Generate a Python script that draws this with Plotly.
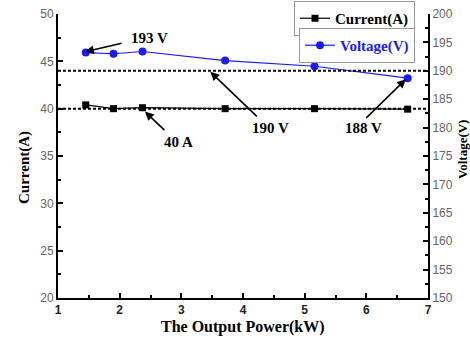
import plotly.graph_objects as go

power_kw = [1.45, 1.90, 2.37, 3.71, 5.16, 6.67]
current_a = [40.4, 40.0, 40.1, 40.0, 40.0, 39.95]
voltage_v = [193.2, 193.0, 193.4, 191.8, 190.8, 188.7]
current_ref = 40
voltage_ref = 190

x_ticks = [1, 2, 3, 4, 5, 6, 7]
cur_ticks = [20, 25, 30, 35, 40, 45, 50]
volt_ticks = [150, 155, 160, 165, 170, 175, 180, 185, 190, 195, 200]

SERIF = "Liberation Serif, Times New Roman, serif"
SANS = "Liberation Sans, Arial, sans-serif"
BLUE = "#1a1aff"

fig = go.Figure()
fig.add_trace(go.Scatter(
    x=power_kw, y=current_a, name="<b>Current(A)</b>", mode="lines+markers",
    line=dict(color="black", width=1.2),
    marker=dict(symbol="square", size=7, color="black"),
    legend="legend"))
fig.add_trace(go.Scatter(
    x=power_kw, y=voltage_v, name="<b>Voltage(V)</b>", mode="lines+markers",
    line=dict(color=BLUE, width=1.2),
    marker=dict(symbol="circle", size=8, color=BLUE),
    yaxis="y2", legend="legend2"))

dotted = dict(color="black", width=2, dash="3px,2px")
fig.add_shape(type="line", xref="paper", x0=0, x1=1, yref="y", y0=current_ref, y1=current_ref, line=dotted)
fig.add_shape(type="line", xref="paper", x0=0, x1=1, yref="y2", y0=voltage_ref, y1=voltage_ref, line=dotted)

label_font = dict(family=SERIF, size=15, color="black")
arrow_style = dict(showarrow=True, arrowhead=2, arrowsize=1.1, arrowwidth=1.6, arrowcolor="black", text="")
# arrows (tip in data coords, tail offset in pixels)
fig.add_annotation(x=1.44, y=46.0, xref="x", yref="y", ax=38, ay=-9, **arrow_style)
fig.add_annotation(x=2.41, y=39.7, xref="x", yref="y", ax=21, ay=20, **arrow_style)
fig.add_annotation(x=3.47, y=43.9, xref="x", yref="y", ax=48, ay=46, **arrow_style)
fig.add_annotation(x=6.64, y=43.1, xref="x", yref="y", ax=-41, ay=40, **arrow_style)
# labels
fig.add_annotation(x=2.49, y=47.5, xref="x", yref="y", text="<b>193 V</b>", showarrow=False, font=label_font)
fig.add_annotation(x=2.95, y=36.5, xref="x", yref="y", text="<b>40 A</b>", showarrow=False, font=label_font)
fig.add_annotation(x=4.45, y=38.0, xref="x", yref="y", text="<b>190 V</b>", showarrow=False, font=label_font)
fig.add_annotation(x=5.95, y=38.0, xref="x", yref="y", text="<b>188 V</b>", showarrow=False, font=label_font)

# axis titles
title_common = dict(xref="paper", yref="paper", showarrow=False, xanchor="center", yanchor="middle")
fig.add_annotation(x=(25-58)/370, y=(298-168)/284, text="<b>Current(A)</b>", textangle=-90,
                   font=dict(family=SERIF, size=15, color="black"), **title_common)
fig.add_annotation(x=(462-58)/370, y=(298-150)/284, text="<b>Voltage(V)</b>", textangle=-90,
                   font=dict(family=SERIF, size=13, color="black"), **title_common)
fig.add_annotation(x=(243-58)/370, y=(298-327)/284, text="<b>The Output Power(kW)</b>",
                   font=dict(family=SERIF, size=16, color="black"), **title_common)

tick_common = dict(ticks="inside", ticklen=5, tickwidth=2, tickcolor="black",
                   showline=True, linewidth=2, linecolor="black", showgrid=False, zeroline=False)

fig.update_layout(
    width=470, height=343,
    margin=dict(l=58, r=42, t=14, b=45, autoexpand=False),
    paper_bgcolor="white", plot_bgcolor="white",
    showlegend=True,
    xaxis=dict(range=[1, 7], tickvals=x_ticks, **tick_common,
               minor=dict(ticks="inside", ticklen=3, tickwidth=2, tickcolor="black", dtick=0.5),
               tickfont=dict(family=SANS, size=12, color="#222", weight="bold")),
    yaxis=dict(range=[20, 50], tickvals=cur_ticks, **tick_common,
               minor=dict(ticks="inside", ticklen=3, tickwidth=2, tickcolor="black", dtick=2.5),
               tickfont=dict(family=SANS, size=12, color="#666")),
    yaxis2=dict(range=[150, 200], tickvals=volt_ticks, overlaying="y", side="right", **tick_common,
                minor=dict(ticks="inside", ticklen=3, tickwidth=2, tickcolor="black", dtick=2.5),
                tickfont=dict(family=SANS, size=12, color="#666")),
    legend=dict(x=(415-58)/370, xanchor="right", y=(298-1)/284, yanchor="top",
                bgcolor="white", bordercolor="#999", borderwidth=1,
                font=dict(family=SERIF, size=15, color="black"), itemwidth=30,
                tracegroupgap=0),
    legend2=dict(x=(415-58)/370, xanchor="right", y=(298-28)/284, yanchor="top",
                 bgcolor="white", bordercolor="#999", borderwidth=1,
                 font=dict(family=SERIF, size=15, color=BLUE), itemwidth=30,
                 tracegroupgap=0),
)

fig.write_html("out.html", config={"displayModeBar": False},
               post_script="document.body.style.margin='0';document.body.style.padding='0';")
